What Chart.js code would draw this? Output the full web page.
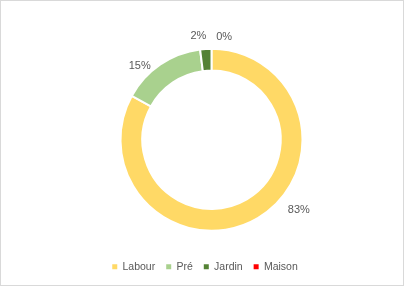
<!DOCTYPE html>
<html>
<head>
<meta charset="utf-8">
<script src="https://cdn.jsdelivr.net/npm/chart.js@4"></script>
<style>
  html, body { margin: 0; padding: 0; background: #fff; }
  #wrap { position: absolute; left: 0; top: 0; width: 404px; height: 286px; box-sizing: border-box; border: 1px solid #d9d9d9; background: #fff; }
  #wrap canvas { display: block; }
</style>
</head>
<body>
<div id="wrap"><canvas id="c"></canvas></div>
<script>
const categories = ['Labour', 'Pré', 'Jardin', 'Maison'];
const values = [83, 15, 2, 0];
const colors = ['#FFD966', '#A9D18E', '#548235', '#FF0000'];

const textColor = '#595959';
const fontFamily = "'Liberation Sans', Arial, sans-serif";

const outsideLabels = {
  id: 'outsideLabels',
  afterDatasetsDraw(chart, args, opts) {
    const ctx = chart.ctx;
    const meta = chart.getDatasetMeta(0);
    const data = chart.data.datasets[0].data;
    const total = data.reduce((a, b) => a + b, 0);
    ctx.save();
    ctx.font = opts.font;
    ctx.fillStyle = opts.color;
    ctx.textAlign = 'center';
    ctx.textBaseline = 'middle';
    meta.data.forEach((arc, i) => {
      const p = arc.getProps(['x', 'y', 'startAngle', 'endAngle', 'outerRadius'], true);
      const mid = (p.startAngle + p.endAngle) / 2 + (opts.angleNudge[i] || 0) * Math.PI / 180;
      const r = p.outerRadius + (opts.gap[i] || 0);
      const txt = Math.round(data[i] / total * 100) + '%';
      ctx.fillText(txt, p.x + Math.cos(mid) * r, p.y + Math.sin(mid) * r);
    });
    ctx.restore();
  }
};

const legendShift = {
  id: 'legendShift',
  afterLayout(chart, args, opts) {
    if (chart.legend) {
      chart.legend.left += opts.dx;
      chart.legend.right += opts.dx;
    }
  }
};

new Chart(document.getElementById('c'), {
  type: 'doughnut',
  data: {
    labels: categories,
    datasets: [{
      data: values,
      backgroundColor: colors,
      borderColor: '#ffffff',
      borderWidth: 2,
      hoverOffset: 0
    }]
  },
  options: {
    responsive: true,
    maintainAspectRatio: false,
    animation: false,
    radius: 91,
    cutout: '76%',
    layout: { padding: { left: 19, right: 0, top: 28, bottom: 3 } },
    plugins: {
      tooltip: { enabled: false },
      legend: {
        position: 'bottom',
        labels: {
          boxWidth: 5,
          boxHeight: 5,
          padding: 11,
          color: textColor,
          font: { family: fontFamily, size: 10.5 },
          generateLabels(chart) {
            const base = Chart.overrides.doughnut.plugins.legend.labels.generateLabels(chart);
            return base.map(l => Object.assign(l, { lineWidth: 0, strokeStyle: l.fillStyle, hidden: false }));
          }
        }
      },
      outsideLabels: {
        font: "11px 'Liberation Sans', Arial, sans-serif",
        color: textColor,
        angleNudge: [-20.6, -10, -3.6, 7],
        gap: [21, 12, 14, 13]
      },
      legendShift: { dx: -6.5 }
    }
  },
  plugins: [outsideLabels, legendShift]
});
</script>
</body>
</html>
